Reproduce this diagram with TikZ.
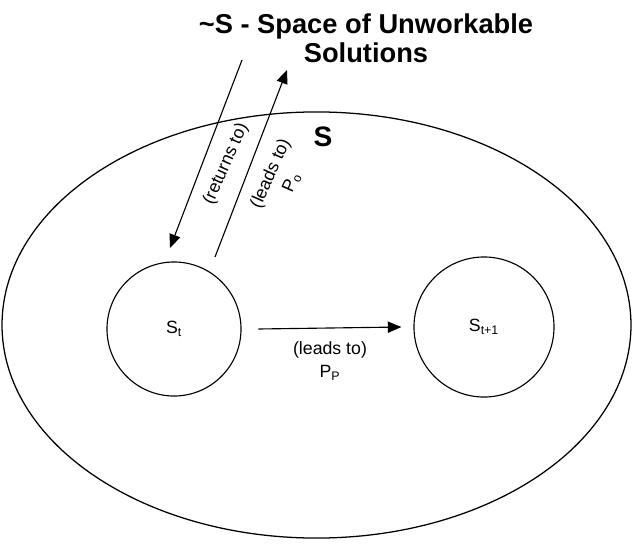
\documentclass[tikz,border=0pt]{standalone}
\usepackage{fontspec}
\setmainfont{Liberation Sans}
\usetikzlibrary{arrows.meta,positioning,shapes.geometric,calc}
\tikzset{
  space/.style={ellipse, draw=black, line width=0.9pt, minimum width=15.72cm, minimum height=10.65cm, inner sep=0pt},
  state/.style={circle, draw=black, line width=0.8pt, inner sep=0pt, font=\fontsize{12.6}{14}\selectfont},
  lbl/.style={align=center, inner sep=1pt, font=\fontsize{12.6}{16.3}\selectfont},
  title/.style={align=center, inner sep=0pt, font=\bfseries\fontsize{19.4}{20.6}\selectfont},
  arrow/.style={-{Triangle[length=3.4mm, width=2.8mm]}, line width=0.8pt, draw=black}
}

\begin{document}
\begin{tikzpicture}[x=0.025cm, y=-0.025cm]
  \useasboundingbox (0,0) rectangle (633,546);
  \node[space] (space) at (316.5,325) {};
  \node[font=\bfseries\fontsize{20}{22}\selectfont] (slbl) at (323,137) {S};
  \node[state, minimum size=3.35cm] (st) at (174,329) {S\textsubscript{t}};
  \node[state, minimum size=3.5cm] (stnext) at (484,327) {S\textsubscript{t+1}};
  \node[title] (unwork) at (366,38) {\textasciitilde S - Space of Unworkable\\Solutions};

  \coordinate (retstart) at (242,60);
  \coordinate (retend) at (170,248);
  \coordinate (leadstart) at (215,257);
  \coordinate (leadend) at (287,70);

  \draw[arrow] (retstart) -- (retend);
  \draw[arrow] (leadstart) -- (leadend);
  \draw[arrow] ([xshift=0.42cm]st.east) -- ([xshift=-0.3cm]stnext.west);

  \node[lbl, rotate=66] (retlbl) at (226,164) {(returns to)};
  \node[lbl, rotate=66] (polbl) at (281,178) {(leads to)\\P\textsubscript{o}};
  \node[lbl] (pplbl) at (330,361) {(leads to)\\P\textsubscript{P}};
\end{tikzpicture}
\end{document}
